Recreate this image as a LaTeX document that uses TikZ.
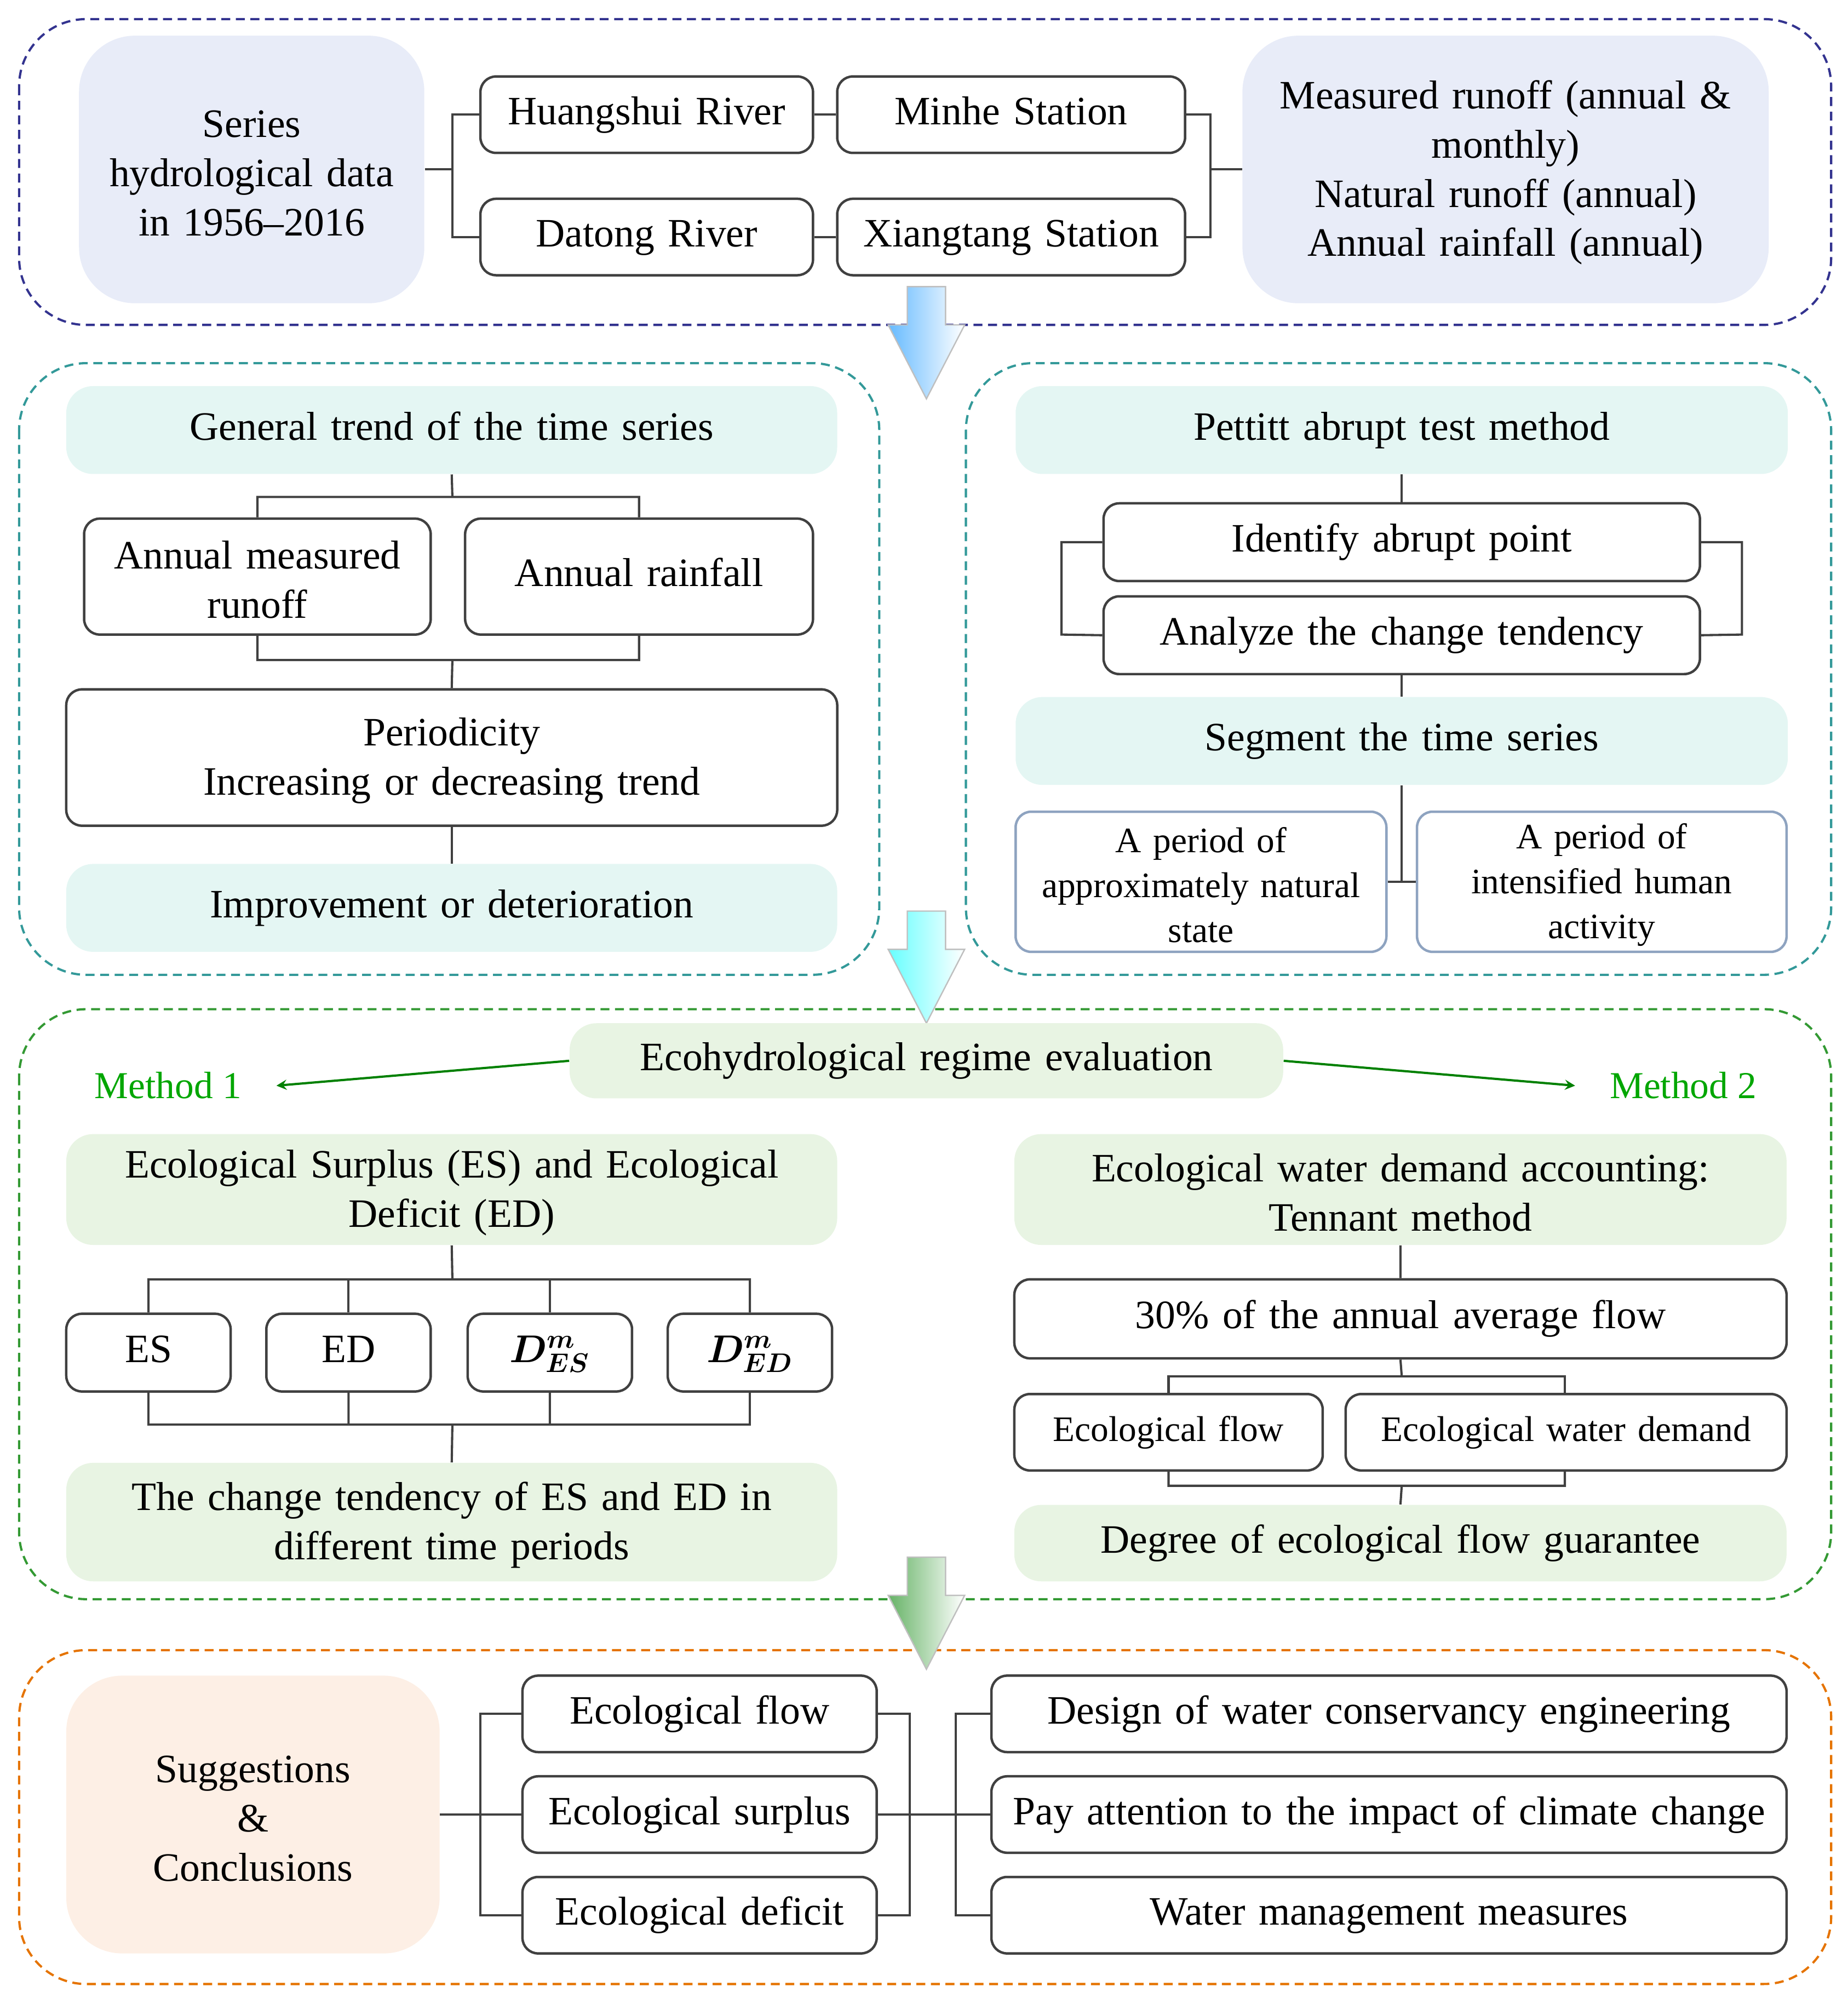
\documentclass[tikz,border=0pt]{standalone}
\usepackage{fontspec}
\usepackage{bm}
\setmainfont{Liberation Serif}
\definecolor{lav}{HTML}{E8ECF8}
\definecolor{lcy}{HTML}{E4F6F3}
\definecolor{lgr}{HTML}{E8F4E3}
\definecolor{lor}{HTML}{FDEFE5}
\definecolor{steel}{HTML}{8EA3C0}
\begin{document}
\newcommand\bx[7]{\node[#2, minimum width={(#5-#3)*0.02cm}, minimum height={(#6-#4)*0.02cm}, text width={(#5-#3)*0.02cm-8pt}] (#1) at ({(#3+#5)/2},{(#4+#6)/2}) {\strut#7};}
\begin{tikzpicture}[x=0.02cm,y=-0.02cm,
 box/.style={draw=black!75, line width=1.1pt, rounded corners=7pt, align=center, inner sep=0pt, fill=white, font=\fontsize{18}{22}\selectfont},
 sbox/.style={box, font=\fontsize{16}{20}\selectfont},
 pbox/.style={box, draw=steel, font=\fontsize{16}{20}\selectfont},
 fl/.style={rounded corners=12pt, align=center, inner sep=0pt, font=\fontsize{18}{22}\selectfont},
 blu/.style={fl, fill=lav, rounded corners=25pt},
 cy/.style={fl, fill=lcy},
 gr/.style={fl, fill=lgr},
 org/.style={fl, fill=lor, rounded corners=25pt},
 frame/.style={line width=1pt, dash pattern=on 4pt off 2.5pt, rounded corners=30pt},
 ln/.style={draw=black!75, line width=1pt},
 barrow/.style={draw=black!25, line width=0.6pt}]
\useasboundingbox (0,0) rectangle (1450,1568);
% frames
\draw[frame, draw=blue!45!black!80] (15,15) rectangle (1437,255);
\draw[frame, draw=teal!80] (15,285) rectangle (690,765);
\draw[frame, draw=teal!80] (758,285) rectangle (1437,765);
\draw[frame, draw=green!50!black!80] (15,792) rectangle (1437,1255);
\draw[frame, draw=orange!90!black] (15,1295) rectangle (1437,1557);
% section 1
\bx{ser}{blu}{62}{28}{333}{238}{Series\\hydrological data\\in 1956--2016}
\bx{hr}{box}{377}{60}{638}{120}{Huangshui River}
\bx{ms}{box}{657}{60}{930}{120}{Minhe Station}
\bx{dr}{box}{377}{156}{638}{216}{Datong River}
\bx{xs}{box}{657}{156}{930}{216}{Xiangtang Station}
\bx{mr}{blu}{975}{28}{1388}{238}{Measured runoff (annual \&\\monthly)\\Natural runoff (annual)\\Annual rainfall (annual)}
\draw[ln] (ser.east) -- (355,133) (hr.west) -| (355,133) |- (dr.west);
\draw[ln] (hr.east) -- (ms.west) (dr.east) -- (xs.west);
\draw[ln] (ms.east) -| (950,133) |- (xs.east) (950,133) -- (mr.west);
% arrows
\foreach \y/\c in {225/blue!45!cyan!60, 715/cyan!60, 1222/green!50!black!60}{
 \shade[left color=\c, right color=white, barrow] (712,\y) -- (742,\y) -- (742,\y+30) -- (757,\y+30) -- (727,\y+88) -- (697,\y+30) -- (712,\y+30) -- cycle;}
% section 2 left
\bx{gt}{cy}{52}{303}{657}{372}{General trend of the time series}
\bx{amr}{box}{66}{407}{338}{498}{Annual measured\\runoff}
\bx{ar}{box}{365}{407}{638}{498}{Annual rainfall}
\bx{per}{box}{52}{541}{657}{648}{Periodicity\\Increasing or decreasing trend}
\bx{imp}{cy}{52}{678}{657}{747}{Improvement or deterioration}
\draw[ln] (gt.south) -- (355,390) (amr.north) |- (ar.north |- 0,390) -- (ar.north);
\draw[ln] (amr.south) |- (355,518) -| (ar.south) (355,518) -- (per.north);
\draw[ln] (per.south) -- (imp.north);
% section 2 right
\bx{pet}{cy}{797}{303}{1403}{372}{Pettitt abrupt test method}
\bx{ide}{box}{866}{395}{1334}{456}{Identify abrupt point}
\bx{ana}{box}{866}{468}{1334}{529}{Analyze the change tendency}
\bx{seg}{cy}{797}{547}{1403}{616}{Segment the time series}
\bx{p1}{pbox}{797}{637}{1088}{747}{A period of\\approximately natural\\state}
\bx{p2}{pbox}{1112}{637}{1402}{747}{A period of\\intensified human\\activity}
\draw[ln] (pet.south) -- (ide.north) (ana.south) -- (seg.north);
\draw[ln] (ide.west) -| (833,498) -- (ana.west) (ide.east) -| (1367,498) -- (ana.east);
\draw[ln] (seg.south) -- (1100,692) (p1.east |- 0,692) -- (p2.west |- 0,692);
% section 3
\bx{eco}{gr}{447}{803}{1007}{862}{Ecohydrological regime evaluation}
\node[font=\fontsize{17}{20}\selectfont, text=green!65!black] (m1) at (132,852) {Method 1};
\node[font=\fontsize{17}{20}\selectfont, text=green!65!black] (m2) at (1321,852) {Method 2};
\draw[->, >=stealth, green!50!black, line width=1pt] (eco.west) -- ([xshift=12pt]m1.east);
\draw[->, >=stealth, green!50!black, line width=1pt] (eco.east) -- ([xshift=-12pt]m2.west);
\bx{esed}{gr}{52}{890}{657}{977}{Ecological Surplus (ES) and Ecological\\Deficit (ED)}
\bx{es}{box}{52}{1031}{181}{1092}{ES}
\bx{ed}{box}{209}{1031}{338}{1092}{ED}
\bx{des}{box}{367}{1031}{496}{1092}{$\bm{D^{m}_{ES}}$}
\bx{ded}{box}{524}{1031}{653}{1092}{$\bm{D^{m}_{ED}}$}
\bx{cht}{gr}{52}{1148}{657}{1241}{The change tendency of ES and ED in\\different time periods}
\draw[ln] (esed.south) -- (355,1004) (es.north) |- (ded.north |- 0,1004) -- (ded.north);
\draw[ln] (ed.north) -- (ed.north |- 0,1004) (des.north) -- (des.north |- 0,1004);
\draw[ln] (es.south) |- (ded.south |- 0,1118) -- (ded.south);
\draw[ln] (ed.south) -- (ed.south |- 0,1118) (des.south) -- (des.south |- 0,1118) (355,1118) -- (cht.north);
\bx{ewd}{gr}{796}{890}{1402}{977}{Ecological water demand accounting:\\Tennant method}
\bx{thr}{box}{796}{1004}{1402}{1066}{30\% of the annual average flow}
\bx{ef}{sbox}{796}{1094}{1038}{1154}{Ecological flow}
\bx{ewdd}{sbox}{1056}{1094}{1402}{1154}{Ecological water demand}
\bx{deg}{gr}{796}{1181}{1402}{1241}{Degree of ecological flow guarantee}
\draw[ln] (ewd.south) -- (thr.north) (thr.south) -- (1100,1080);
\draw[ln] (917,1094) |- (1228,1080) -- (1228,1094);
\draw[ln] (917,1154) |- (1228,1166) -- (1228,1154) (1100,1166) -- (deg.north);
% section 4
\bx{sug}{org}{52}{1315}{345}{1533}{Suggestions\\\&\\Conclusions}
\bx{f1}{box}{410}{1315}{688}{1375}{Ecological flow}
\bx{f2}{box}{410}{1394}{688}{1454}{Ecological surplus}
\bx{f3}{box}{410}{1473}{688}{1533}{Ecological deficit}
\bx{r1}{box}{778}{1315}{1402}{1375}{Design of water conservancy engineering}
\bx{r2}{box}{778}{1394}{1402}{1454}{Pay attention to the impact of climate change}
\bx{r3}{box}{778}{1473}{1402}{1533}{Water management measures}
\draw[ln] (sug.east) -- (f2.west) (f1.west) -| (377,1503) -- (f3.west);
\draw[ln] (f1.east) -| (714,1503) -- (f3.east) (f2.east) -- (r2.west);
\draw[ln] (r1.west) -| (750,1503) -- (r3.west);
\end{tikzpicture}
\end{document}
